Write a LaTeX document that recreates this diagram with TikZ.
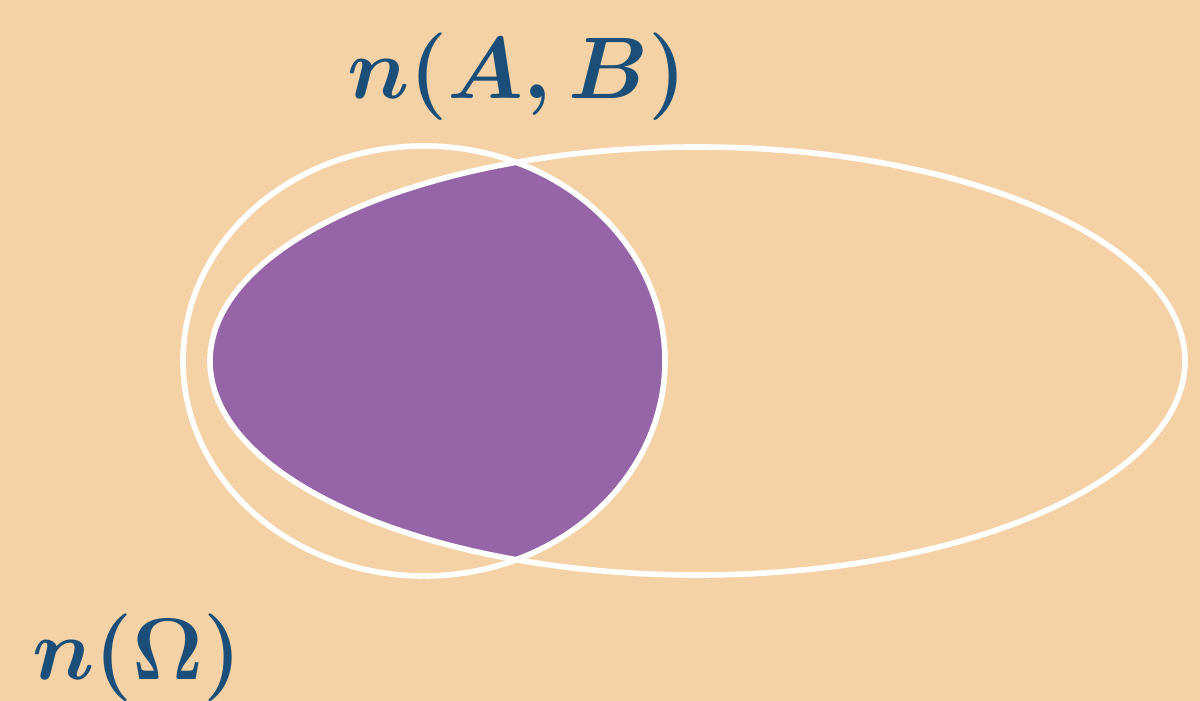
\documentclass[tikz,border=0pt]{standalone}
\usepackage{amsmath,amssymb}
\definecolor{bgc}{HTML}{F5D2A5}
\definecolor{purp}{HTML}{9665A8}
\definecolor{txt}{HTML}{1B4F7A}
\tikzset{
  ring/.style={draw=white,line width=1.6pt},
  lbl/.style={text=txt,font=\fontsize{27}{30}\selectfont,inner sep=0pt}
}
\begin{document}
\begin{tikzpicture}
\fill[bgc] (0,0) rectangle (12,7.01);
\useasboundingbox (0,0) rectangle (12,7.01);
\begin{scope}
  \clip (4.24,3.40) ellipse [x radius=2.41,y radius=2.15];
  \fill[purp] (6.975,3.40) ellipse [x radius=4.875,y radius=2.14];
\end{scope}
\draw[ring] (4.24,3.40) ellipse [x radius=2.41,y radius=2.15];
\draw[ring] (6.975,3.40) ellipse [x radius=4.875,y radius=2.14];
\node[lbl] (nab) at (5.17,6.24) {$\boldsymbol{n(A,B)}$};
\node[lbl] (nom) at (1.37,0.43) {$\boldsymbol{n(\Omega)}$};
\end{tikzpicture}
\end{document}
